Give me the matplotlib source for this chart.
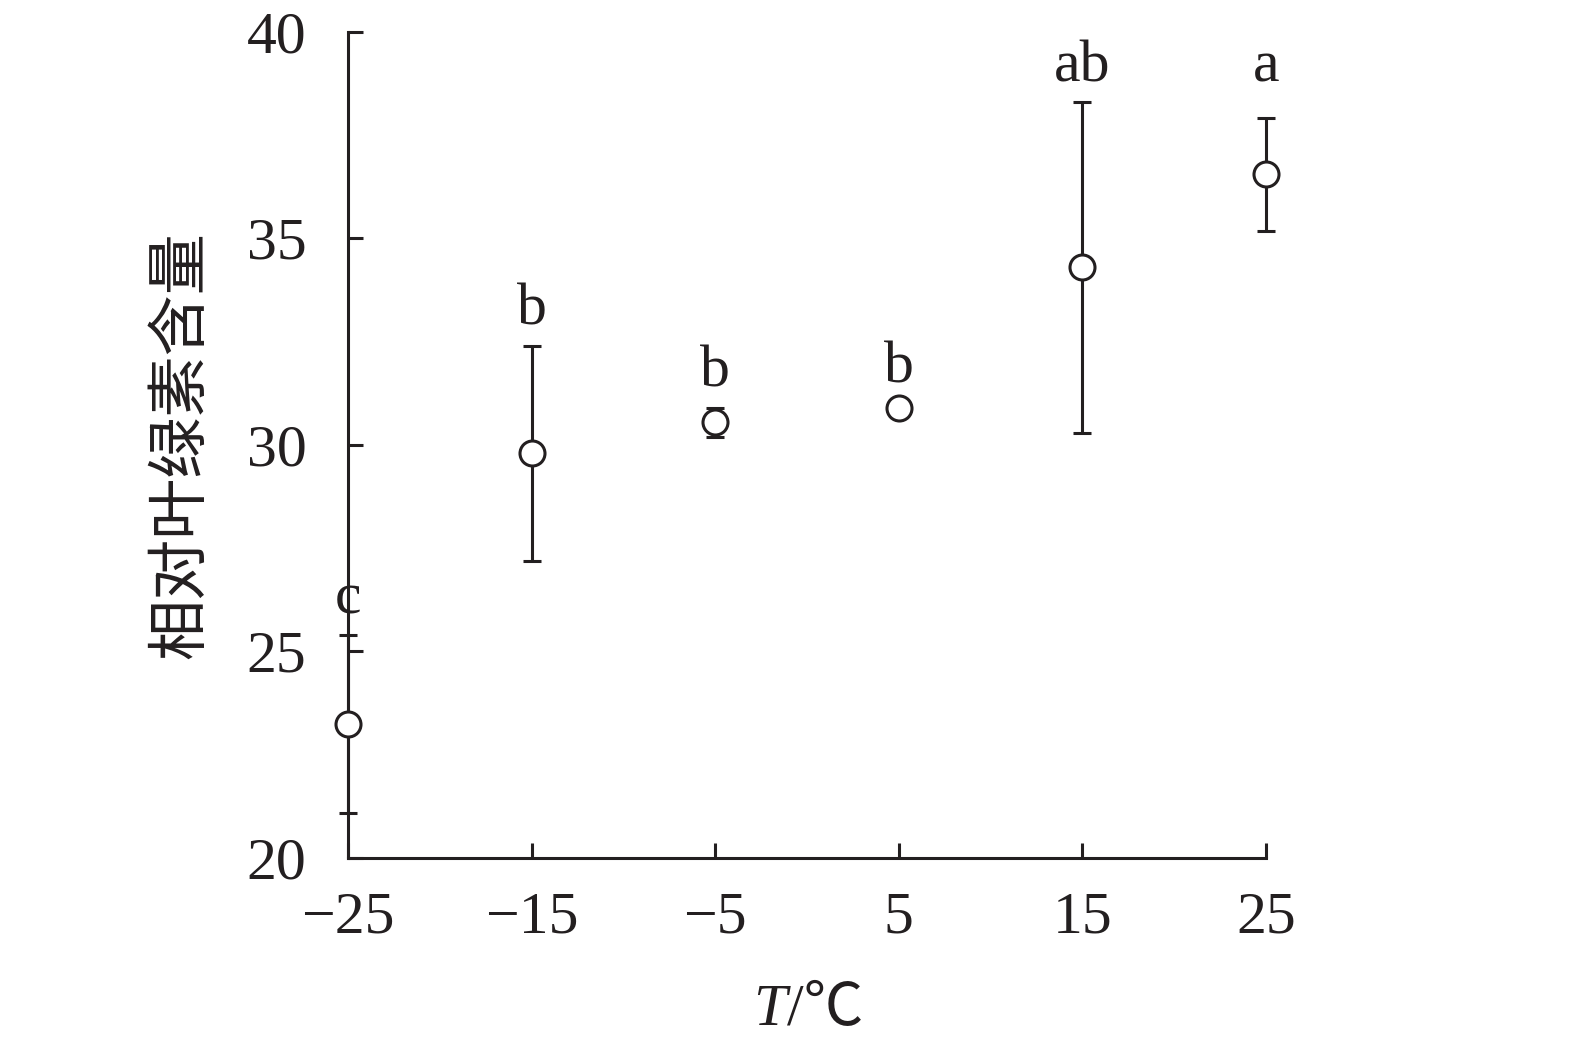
import matplotlib.pyplot as plt

plt.rcParams['font.family'] = ['Liberation Serif', 'Noto Sans CJK SC', 'DejaVu Sans']
plt.rcParams['axes.unicode_minus'] = True

temps = [-25, -15, -5, 5, 15, 25]
chl = [23.25, 29.8, 30.55, 30.9, 34.3, 36.55]
chl_err = [2.15, 2.6, 0.35, 0.1, 4.0, 1.37]
letters = ['c', 'b', 'b', 'b', 'ab', 'a']

fig = plt.figure(figsize=(15.75, 10.48), dpi=100)
ax = fig.add_axes([0.221, 0.1813, 0.5828, 0.7882])

ax.errorbar(temps, chl, yerr=chl_err, fmt='o', color='#231f20', ecolor='#231f20',
            elinewidth=2.2, capsize=6.5, capthick=2.2, markersize=18,
            markerfacecolor='white', markeredgecolor='#231f20', markeredgewidth=2.2,
            clip_on=False, zorder=3)

# letters sit just above the error bars; the last one lines up with "ab"
letter_y = [v + e + 0.85 for v, e in zip(chl, chl_err)]
letter_y[-1] = letter_y[-2]
for x, y, s in zip(temps, letter_y, letters):
    ax.text(x, y, s, ha='center', va='center', fontsize=43, color='#231f20')

ax.set_xlim(-25, 25)
ax.set_ylim(20, 40)
ax.set_xticks(temps)
ax.set_yticks([20, 25, 30, 35, 40])
for side in ['top', 'right']:
    ax.spines[side].set_visible(False)
for side in ['left', 'bottom']:
    ax.spines[side].set_linewidth(2.2)
    ax.spines[side].set_color('#231f20')
ax.tick_params(axis='both', direction='in', length=11, width=2.2, colors='#231f20',
               labelsize=43)
ax.tick_params(axis='x', pad=24)
ax.tick_params(axis='y', pad=30)

# x label: italic T plus "/℃"
ax.text(0.478, -0.202, 'T', transform=ax.transAxes, ha='right', va='baseline',
        fontsize=43, style='italic', color='#231f20')
ax.text(0.478, -0.202, '/℃', transform=ax.transAxes, ha='left', va='baseline',
        fontsize=43, color='#231f20')

ax.set_ylabel('相对叶绿素含量', fontsize=44, color='#231f20',
              family=['Noto Sans CJK SC', 'DejaVu Sans'])
ax.yaxis.set_label_coords(-0.148, 0.5)

fig.savefig('out.png', dpi=100)
